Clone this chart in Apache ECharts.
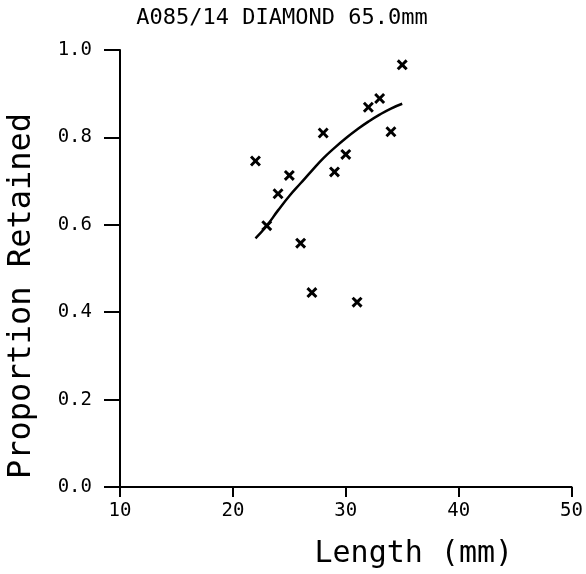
<!DOCTYPE html>
<html><head><meta charset="utf-8">
<script src="https://cdn.jsdelivr.net/npm/echarts@6/dist/echarts.min.js"></script>
<style>html,body{margin:0;padding:0;background:#fff}#c{width:586px;height:574px}</style>
</head><body><div id="c"></div>
<script>
const titleText = 'A085/14 DIAMOND 65.0mm';
const xName = 'Length (mm)';
const yName = 'Proportion Retained';
const obsLength = [35, 33, 32, 34, 28, 30, 22, 29, 25, 24, 23, 26, 27, 31];
const obsRetained = [0.966, 0.889, 0.869, 0.813, 0.810, 0.761, 0.746, 0.721, 0.713, 0.671, 0.598, 0.558, 0.445, 0.423];
const fitLength = [22, 23, 24, 25, 26, 27, 28, 29, 30, 31, 32, 33, 34, 35];
const fitRetained = [0.569, 0.598, 0.633, 0.666, 0.695, 0.724, 0.752, 0.776, 0.798, 0.818, 0.836, 0.852, 0.866, 0.877];

const font = 'DejaVu Sans Mono';
const chart = echarts.init(document.getElementById('c'), null, {renderer: 'canvas'});
chart.setOption({
  animation: false,
  backgroundColor: '#fff',
  title: {text: titleText, left: 277, top: 2, textAlign: 'center',
    textStyle: {fontFamily: font, fontSize: 22, fontWeight: 'normal', color: '#000'}},
  grid: {left: 120, right: 11, top: 50, bottom: 81},
  xAxis: {type: 'value', min: 10, max: 50, interval: 10,
    name: xName, nameLocation: 'middle', nameGap: 52,
    nameTextStyle: {fontFamily: font, fontSize: 30, color: '#000', padding: [0, 0, 0, 136]},
    axisLine: {lineStyle: {color: '#000', width: 2}},
    axisTick: {show: true, length: 10, lineStyle: {color: '#000', width: 2}},
    axisLabel: {fontFamily: font, fontSize: 19, color: '#000', margin: 15},
    splitLine: {show: false}},
  yAxis: {type: 'value', min: 0, max: 1, interval: 0.2,
    axisLine: {show: true, lineStyle: {color: '#000', width: 2}},
    axisTick: {show: true, length: 16, lineStyle: {color: '#000', width: 2}},
    axisLabel: {fontFamily: font, fontSize: 19, color: '#000', margin: 28,
      formatter: v => v.toFixed(1)},
    splitLine: {show: false}},
  graphic: [{type: 'text', left: 6, top: 113, rotation: Math.PI / 2,
    style: {text: yName, fontFamily: font, fontSize: 32, fill: '#000'}}],
  series: [
    {type: 'scatter', data: obsLength.map((x, i) => [x, obsRetained[i]]),
      symbol: 'path://M0,1.9 L1.9,0 L5,3.1 L8.1,0 L10,1.9 L6.9,5 L10,8.1 L8.1,10 L5,6.9 L1.9,10 L0,8.1 L3.1,5 Z',
      symbolSize: 11, itemStyle: {color: '#000', opacity: 1}},
    {type: 'line', data: fitLength.map((x, i) => [x, fitRetained[i]]), smooth: true,
      showSymbol: false, lineStyle: {color: '#000', width: 2.5}}
  ]
});
</script></body></html>
